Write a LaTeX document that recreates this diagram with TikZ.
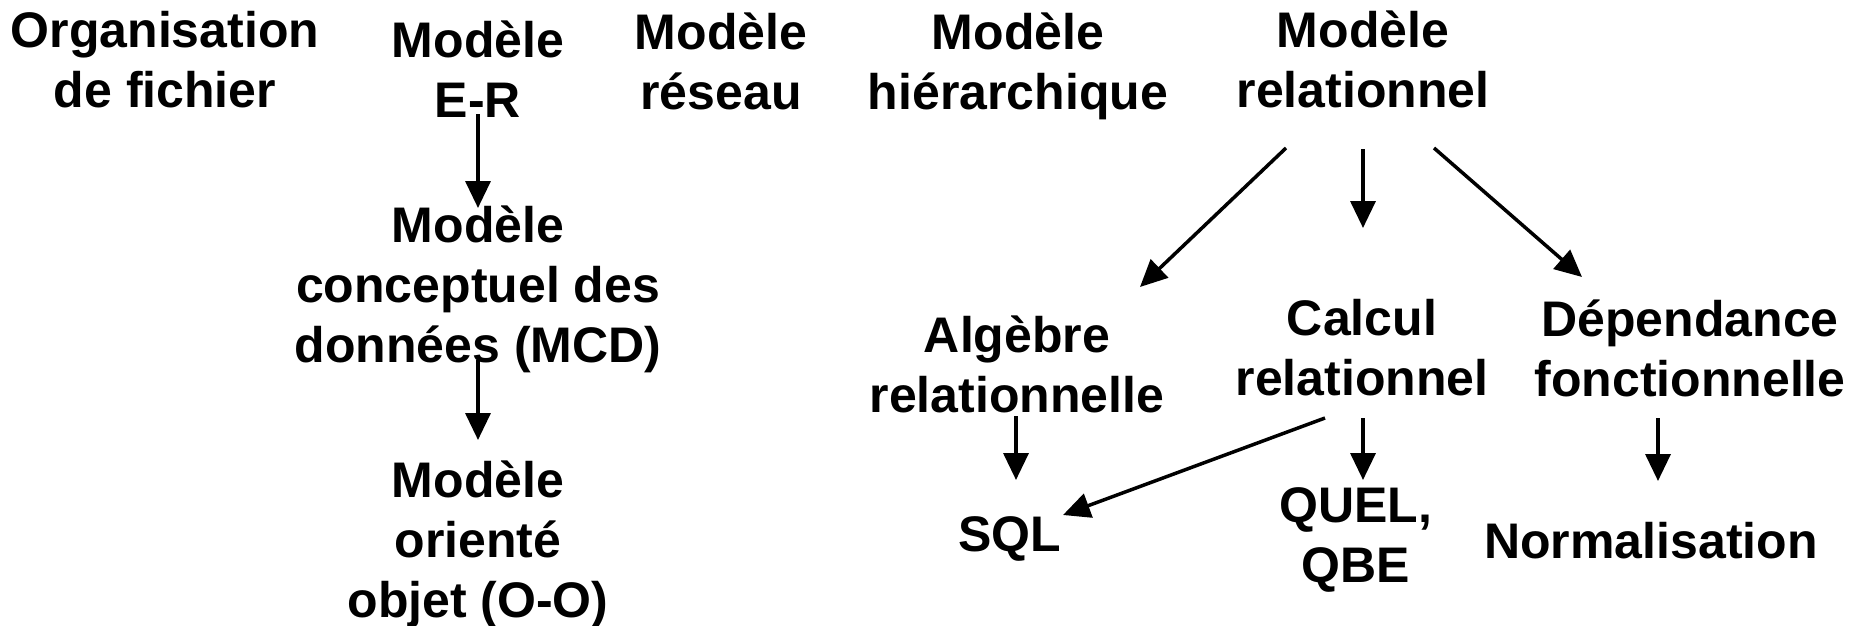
\documentclass[tikz,border=0pt]{standalone}
\usepackage{fontspec}
\setmainfont{Liberation Sans}
\usetikzlibrary{arrows.meta}
\tikzset{
  lbl/.style={align=center, inner sep=0pt, font=\fontsize{50}{60}\selectfont\bfseries},
  arr/.style={line width=3.5pt, -{Triangle[length=27pt,width=25pt]}}
}
\begin{document}
\begin{tikzpicture}[x=1pt,y=-1pt]
\useasboundingbox (0,0) rectangle (1850,626);
% top row
\node[lbl] (org) at (165,60) {Organisation\\de fichier};
\node[lbl] (er)  at (478,69) {Modèle\\E-R};
\node[lbl] (res) at (721,61) {Modèle\\réseau};
\node[lbl] (hie) at (1018,66) {Modèle\\hiérarchique};
\node[lbl] (rel) at (1363,59) {Modèle\\relationnel};
% left column
\node[lbl] (mcd) at (478,289) {Modèle\\conceptuel des\\données (MCD)};
\node[lbl] (oo)  at (478,544) {Modèle\\orienté\\objet (O-O)};
% relational branch
\node[lbl] (alg) at (1017,364) {Algèbre\\relationnelle};
\node[lbl] (cal) at (1362,348) {Calcul\\relationnel};
\node[lbl] (dep) at (1690,348) {Dépendance\\fonctionnelle};
\node[lbl] (sql) at (1010,539) {SQL};
\node[lbl] (que) at (1356,540) {QUEL,\\QBE};
\node[lbl] (nor) at (1651,541) {Normalisation};
% connector end points
\coordinate (er1) at (478,114);  \coordinate (er2) at (478,208);
\coordinate (mc1) at (478,360);  \coordinate (mc2) at (478,440);
\coordinate (ra1) at (1286,148); \coordinate (ra2) at (1140,287);
\coordinate (rc1) at (1363,149); \coordinate (rc2) at (1363,228);
\coordinate (rd1) at (1434,148); \coordinate (rd2) at (1582,277);
\coordinate (as1) at (1016,416); \coordinate (as2) at (1016,480);
\coordinate (cs1) at (1325,418); \coordinate (cs2) at (1063,515);
\coordinate (cq1) at (1363,418); \coordinate (cq2) at (1363,480);
\coordinate (dn1) at (1658,418); \coordinate (dn2) at (1658,481);
\draw[arr] (er1) -- (er2);
\draw[arr] (mc1) -- (mc2);
\draw[arr] (ra1) -- (ra2);
\draw[arr] (rc1) -- (rc2);
\draw[arr] (rd1) -- (rd2);
\draw[arr] (as1) -- (as2);
\draw[arr] (cs1) -- (cs2);
\draw[arr] (cq1) -- (cq2);
\draw[arr] (dn1) -- (dn2);
\end{tikzpicture}
\end{document}
